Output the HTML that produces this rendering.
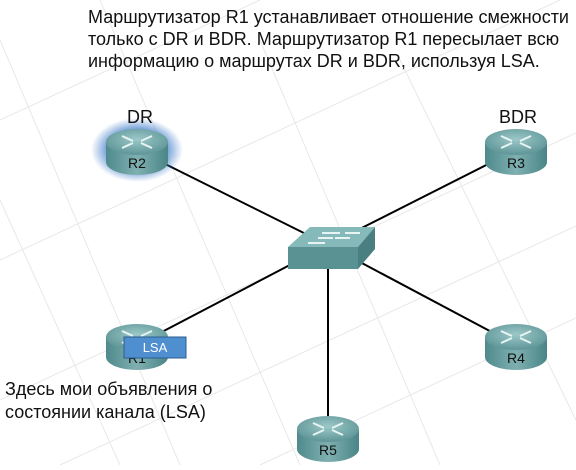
<!DOCTYPE html>
<html><head><meta charset="utf-8"><style>
body{margin:0;width:576px;height:465px;background:#fff;overflow:hidden;font-family:"Liberation Sans",sans-serif}
</style></head><body>
<svg width="576" height="465" viewBox="0 0 576 465" xmlns="http://www.w3.org/2000/svg">
<defs>
<linearGradient id="side" x1="0" x2="1"><stop offset="0" stop-color="#4f8a8c"/><stop offset="0.5" stop-color="#7fb0b1"/><stop offset="1" stop-color="#4a8587"/></linearGradient>
<radialGradient id="top" cx="0.5" cy="0.4" r="0.6"><stop offset="0" stop-color="#9cc8c8"/><stop offset="1" stop-color="#5e9597"/></radialGradient>
<radialGradient id="glow"><stop offset="0.6" stop-color="#3a78c8" stop-opacity="0.8"/><stop offset="1" stop-color="#3a78c8" stop-opacity="0"/></radialGradient>
<g id="rt">
<path d="M-31,-8 L-31,12 A31,13 0 0 0 31,12 L31,-8 Z" fill="url(#side)"/>
<ellipse cx="0" cy="-8" rx="31" ry="13" fill="url(#top)"/>
<g stroke="#e8f4f4" stroke-width="2" fill="none"><path d="M-15,-14 L-4,-9 M15,-14 L4,-9 M-15,-2 L-4,-7 M15,-2 L4,-7"/></g>
</g>
</defs>
<g stroke="#e8e8e8" stroke-width="1">
<path d="M0,120 L260,0 M0,260 L560,0 M0,400 L576,133 M60,465 L576,226 M260,465 L576,318 M0,40 L180,465 M100,0 L300,465 M260,40 L440,465 M400,60 L576,420 M0,200 L120,465"/>
</g>
<g stroke="#000" stroke-width="2">
<line x1="137" y1="150" x2="328" y2="245"/>
<line x1="516" y1="150" x2="328" y2="245"/>
<line x1="137" y1="345" x2="328" y2="245"/>
<line x1="516" y1="345" x2="328" y2="245"/>
<line x1="328" y1="245" x2="328" y2="430"/>
</g>
<ellipse cx="137" cy="150" rx="46" ry="32" fill="url(#glow)"/>
<use href="#rt" x="137" y="150"/>
<use href="#rt" x="516" y="150"/>
<use href="#rt" x="137" y="345"/>
<use href="#rt" x="516" y="345"/>
<use href="#rt" x="328" y="437"/>
<polygon points="288,247 310,227 375,227 358,247" fill="#86b9b9"/>
<polygon points="288,247 358,247 358,269 288,269" fill="#5a9294"/>
<polygon points="358,247 375,227 375,249 358,269" fill="#4a7f81"/>
<g stroke="#e8f4f4" stroke-width="2"><path d="M308,243 L325,243 M318,238 L333,238 M335,238 L350,238 M322,233 L340,233 M345,233 L360,233"/></g>
<g font-size="14" fill="#111" text-anchor="middle">
<text x="137" y="168">R2</text><text x="516" y="168">R3</text><text x="137" y="363">R1</text><text x="516" y="363">R4</text><text x="328" y="455">R5</text>
</g>
<g font-size="18" fill="#111" text-anchor="middle"><text x="140" y="123">DR</text><text x="518" y="123">BDR</text></g>
<rect x="124" y="337" width="62" height="21" fill="#4f8fd0" stroke="#2e5f90"/>
<text x="155" y="352" font-size="13" fill="#fff" text-anchor="middle">LSA</text>
<g font-size="18" fill="#111">
<text x="88" y="23">Маршрутизатор R1 устанавливает отношение смежности</text>
<text x="88" y="45">только с DR и BDR. Маршрутизатор R1 пересылает всю</text>
<text x="88" y="67">информацию о маршрутах DR и BDR, используя LSA.</text>
<text x="5" y="395">Здесь мои объявления о</text>
<text x="5" y="418">состоянии канала (LSA)</text>
</g>
</svg>
</body></html>
